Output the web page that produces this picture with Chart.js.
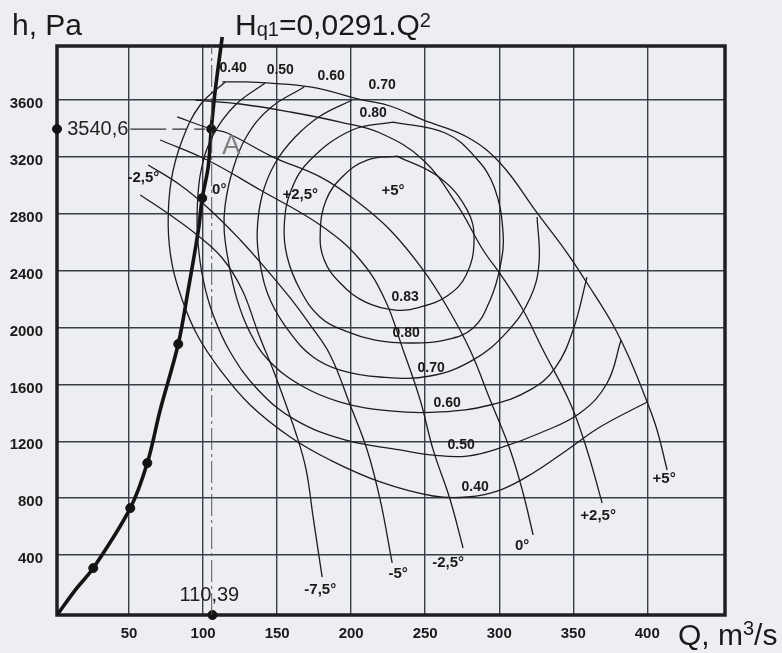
<!DOCTYPE html>
<html><head><meta charset="utf-8">
<script src="https://cdn.jsdelivr.net/npm/chart.js@4"></script>
<style>html,body{margin:0;padding:0;background:#edeef1;}#wrap{width:782px;height:653px;}</style>
</head><body><div id="wrap"><canvas id="c" width="782" height="653"></canvas></div>
<script>
// ---- axis ticks ----
const xTicks = [50,100,150,200,250,300,350,400];
const yTicks = [400,800,1200,1600,2000,2400,2800,3200,3600];

// ---- network resistance curve (thick) and marked points ----
const networkCurve = [[1.5,-20],[13.6,153],[25.8,308],[50.8,730],[62.3,1047],[71.0,1420],[83.2,1884],[89.9,2264],[96.8,2686],[99.4,2910],[103.4,3128],[105.5,3396],[108.2,3670],[112.9,4043]];
const networkPoints = [[25.8,308],[50.8,730],[62.3,1047],[83.2,1884],[99.4,2910],[105.5,3396]];
const pointA = [105.5,3396];
const axisMarks = [[1.3,3396],[106.3,-22]];

// ---- fan pressure curves by blade angle ----
const p5   = [[112.9,3727],[128.4,3727],[143.3,3720],[172.3,3692],[208.1,3600],[226.3,3558],[248.6,3460],[278.3,3340],[300.6,3157],[325.6,2806],[345.9,2524],[359.3,2313],[376.9,2018],[388.4,1772],[399.9,1476],[406.6,1279],[413.4,998]];
const p25  = [[94.7,3600],[125.1,3572],[158.8,3516],[192.6,3445],[219.6,3368],[248.6,3178],[271.6,2862],[289.1,2545],[302.6,2348],[316.1,2123],[329.6,1842],[347.9,1469],[359.3,1139],[369.5,766]];
const p0   = [[82.5,3481],[105.5,3396],[116.3,3368],[147.3,3199],[179.1,3059],[202.7,2897],[226.3,2686],[248.6,2405],[264.8,2144],[280.3,1842],[293.9,1490],[307.4,1139],[316.1,836],[322.9,541]];
const pm25 = [[71.0,3319],[102.8,3178],[138.6,2967],[179.1,2721],[206.1,2475],[222.9,2194],[235.1,1842],[246.6,1490],[255.4,1139],[266.9,787],[275.6,449]];
const pm5  = [[62.9,3143],[84.5,3002],[104.8,2827],[125.1,2616],[141.9,2419],[158.8,2208],[172.3,2018],[185.8,1807],[199.3,1455],[210.8,1139],[219.6,787],[227.7,344]];
const pm75 = [[57.5,2932],[77.8,2791],[96.0,2651],[112.9,2489],[126.4,2264],[137.2,1962],[149.9,1631],[163.5,1230],[169.6,998],[174.3,667],[180.4,245]];

// ---- efficiency contours ----
const eff083 = [[231.1,3206],[260.1,3052],[278.3,2827],[283.0,2616],[277.7,2369],[264.8,2222],[246.6,2144],[229.7,2123],[209.4,2180],[192.6,2313],[181.8,2475],[179.1,2665],[183.1,2897],[194.6,3066],[210.8,3178],[231.1,3206]];
const eff080 = [[228.3,3445],[263.5,3368],[283.7,3199],[296.6,2988],[302.6,2665],[300.6,2426],[293.9,2194],[282.4,1997],[263.5,1912],[239.8,1891],[216.2,1912],[195.8,1976],[178.9,2074],[165.6,2264],[156.8,2496],[154.8,2721],[159.5,2967],[172.3,3178],[200.7,3389],[228.3,3445]];
const eff070 = [[200.7,3600],[179.1,3488],[162.2,3340],[148.7,3157],[139.9,2932],[136.5,2665],[138.6,2440],[145.3,2194],[158.8,1962],[174.3,1793],[192.6,1701],[219.6,1652],[253.3,1659],[282.4,1772],[305.3,1969],[320.9,2208],[326.9,2454],[325.6,2777]];
const eff060 = [[168.3,3692],[145.3,3544],[129.1,3340],[119.6,3094],[114.9,2862],[114.2,2686],[116.9,2475],[123.0,2194],[131.8,1962],[144.0,1772],[165.6,1596],[192.6,1476],[226.3,1413],[260.1,1406],[293.9,1455],[320.9,1561],[337.7,1715],[349.9,1983],[359.3,2355]];
const eff050 = [[141.9,3720],[121.7,3565],[106.8,3354],[98.7,3108],[96.0,2827],[96.7,2580],[100.1,2334],[106.8,2088],[118.3,1828],[137.2,1561],[162.2,1350],[195.8,1209],[233.0,1139],[255.4,1103],[278.3,1096],[300.6,1153],[327.6,1258],[354.6,1399],[372.9,1610],[382.3,1912]];
const eff040 = [[114.9,3727],[98.0,3565],[85.9,3319],[78.5,3038],[76.4,2721],[79.1,2440],[85.9,2194],[96.0,1947],[111.6,1701],[131.8,1455],[158.8,1230],[185.8,1068],[219.6,914],[255.4,815],[278.3,808],[300.6,857],[322.9,977],[345.9,1139],[368.1,1300],[399.9,1476]];

// ---- guide lines to point A ----
const guideH = [[50.8,3396],[101.4,3396]];
const guideV = [[105.8,-22],[105.8,3980]];

// ---- text labels ----
const effTopText = ['0.40','0.50','0.60','0.70','0.80'];
const effTopPos = [[120.3,3825],[152.1,3811],[186.5,3769],[220.9,3706],[214.9,3509]];
const effBottomText = ['0.83','0.80','0.70','0.60','0.50','0.40'];
const effBottomPos = [[236.5,2214],[237.1,1961],[254.0,1715],[264.8,1469],[274.3,1174],[283.7,879]];
const angleTopText = ['-2,5°','0°','+2,5°','+5°'];
const angleTopPos = [[59.6,3052],[110.9,2967],[165.6,2932],[228.3,2961]];
const angleEndText = ['-7,5°','-5°','-2,5°','0°','+2,5°','+5°'];
const angleEndPos = [[179.1,154],[231.7,267],[265.5,344],[315.5,463],[366.8,674],[411.4,935]];
const valueLabelH = '3540,6';
const valueLabelQ = '110,39';

const xy = a => a.map(([x,y]) => ({x, y}));
const thin = (arr) => ({data: xy(arr), showLine: true, borderColor: '#1c1c22', borderWidth: 1.3, pointRadius: 0, tension: 0.4, fill: false});

const datasets = [
  thin(eff083), thin(eff080), thin(eff070), thin(eff060), thin(eff050), thin(eff040),
  thin(p5), thin(p25), thin(p0), thin(pm25), thin(pm5), thin(pm75),
  {data: xy(guideH), showLine: true, borderColor: '#333', borderWidth: 1.2, borderDash: [36,6,14,8], pointRadius: 0},
  {data: xy(guideV), showLine: true, borderColor: '#555', borderWidth: 1, borderDash: [22,4,3,4], pointRadius: 0},
  {data: xy(networkCurve), showLine: true, borderColor: '#141414', borderWidth: 3.6, pointRadius: 0, tension: 0.35, clip: {left: 0, top: 14, right: 0, bottom: 0}},
  {data: xy(networkPoints), showLine: false, pointRadius: 4.5, pointBackgroundColor: '#141414', pointBorderColor: '#141414'},
  {data: xy(axisMarks), showLine: false, pointRadius: 4.5, pointBackgroundColor: '#141414', pointBorderColor: '#141414', clip: false}
];

const tickFont = {family: '"Liberation Sans", Arial, sans-serif', weight: 'bold', size: 15};

const annot = {
  id: 'annot',
  beforeDraw(chart) {
    const c = chart.ctx; c.save(); c.fillStyle = '#edeef1'; c.fillRect(0, 0, chart.width, chart.height); c.restore();
  },
  beforeDatasetsDraw(chart) {
    const c = chart.ctx, a = chart.chartArea;
    c.save(); c.strokeStyle = '#1e1e24'; c.lineWidth = 3.5;
    c.strokeRect(a.left, a.top, a.right - a.left, a.bottom - a.top); c.restore();
  },
  afterDraw(chart) {
    const c = chart.ctx, xs = chart.scales.x, ys = chart.scales.y;
    const P = ([q, h]) => [xs.getPixelForValue(q), ys.getPixelForValue(h)];
    const fam = '"Liberation Sans", Arial, sans-serif';
    c.save();
    c.fillStyle = '#1a1a1a';
    c.textAlign = 'center'; c.textBaseline = 'middle';
    c.font = 'bold 14px ' + fam;
    effTopText.forEach((t, i) => { const [px, py] = P(effTopPos[i]); c.fillText(t, px, py); });
    effBottomText.forEach((t, i) => { const [px, py] = P(effBottomPos[i]); c.fillText(t, px, py); });
    c.font = 'bold 15px ' + fam;
    angleTopText.forEach((t, i) => { const [px, py] = P(angleTopPos[i]); c.fillText(t, px, py); });
    angleEndText.forEach((t, i) => { const [px, py] = P(angleEndPos[i]); c.fillText(t, px, py); });
    // value labels
    c.font = '20px ' + fam; c.fillStyle = '#222';
    c.textAlign = 'left';
    { const [px, py] = P([8.2, pointA[1]]); c.fillText(valueLabelH, px, py); }
    c.textAlign = 'center';
    { const [px, py] = P([104.2, 112]); c.fillText(valueLabelQ, px, py); }
    // point label A
    c.font = '28px ' + fam; c.fillStyle = '#808080';
    { const [px, py] = P([119.0, 3277]); c.fillText('A', px, py); }
    // axis titles
    c.fillStyle = '#1a1a1a'; c.textAlign = 'left'; c.textBaseline = 'alphabetic';
    c.font = '30px ' + fam; c.fillText('h, Pa', 12, 35);
    let x = 235;
    const seg = (t, size, base) => { c.font = size + 'px ' + fam; c.fillText(t, x, base); x += c.measureText(t).width; };
    seg('H', 30, 35); seg('q1', 20, 36); seg('=0,0291.Q', 30, 35); seg('2', 20, 27);
    x = 678;
    seg('Q, m', 30, 645); seg('3', 20, 635); seg('/s', 30, 645);
    c.restore();
  }
};

new Chart(document.getElementById('c'), {
  type: 'scatter',
  data: {datasets},
  options: {
    responsive: false, animation: false, devicePixelRatio: 1,
    layout: {padding: {left: 0, top: 46, right: 57, bottom: 0}},
    plugins: {legend: {display: false}, tooltip: {enabled: false}, title: {display: false}},
    scales: {
      x: {
        type: 'linear', min: 1.3, max: 452.5,
        afterBuildTicks: s => { s.ticks = xTicks.map(v => ({value: v})); },
        afterFit: s => { s.height = 38; },
        grid: {color: '#3a3d4a', lineWidth: 1.4, drawTicks: false},
        border: {display: false},
        ticks: {padding: 10, autoSkip: false, maxRotation: 0, color: '#1a1a1a', font: tickFont, callback: v => String(v)}
      },
      y: {
        type: 'linear', min: -22, max: 3980,
        afterBuildTicks: s => { s.ticks = yTicks.map(v => ({value: v})); },
        afterFit: s => { s.width = 57; },
        grid: {color: '#3a3d4a', lineWidth: 1.4, drawTicks: false},
        border: {display: false},
        ticks: {padding: 14, autoSkip: false, labelOffset: 4, color: '#1a1a1a', font: tickFont, callback: v => String(v)}
      }
    }
  },
  plugins: [annot]
});
</script>
</body></html>
